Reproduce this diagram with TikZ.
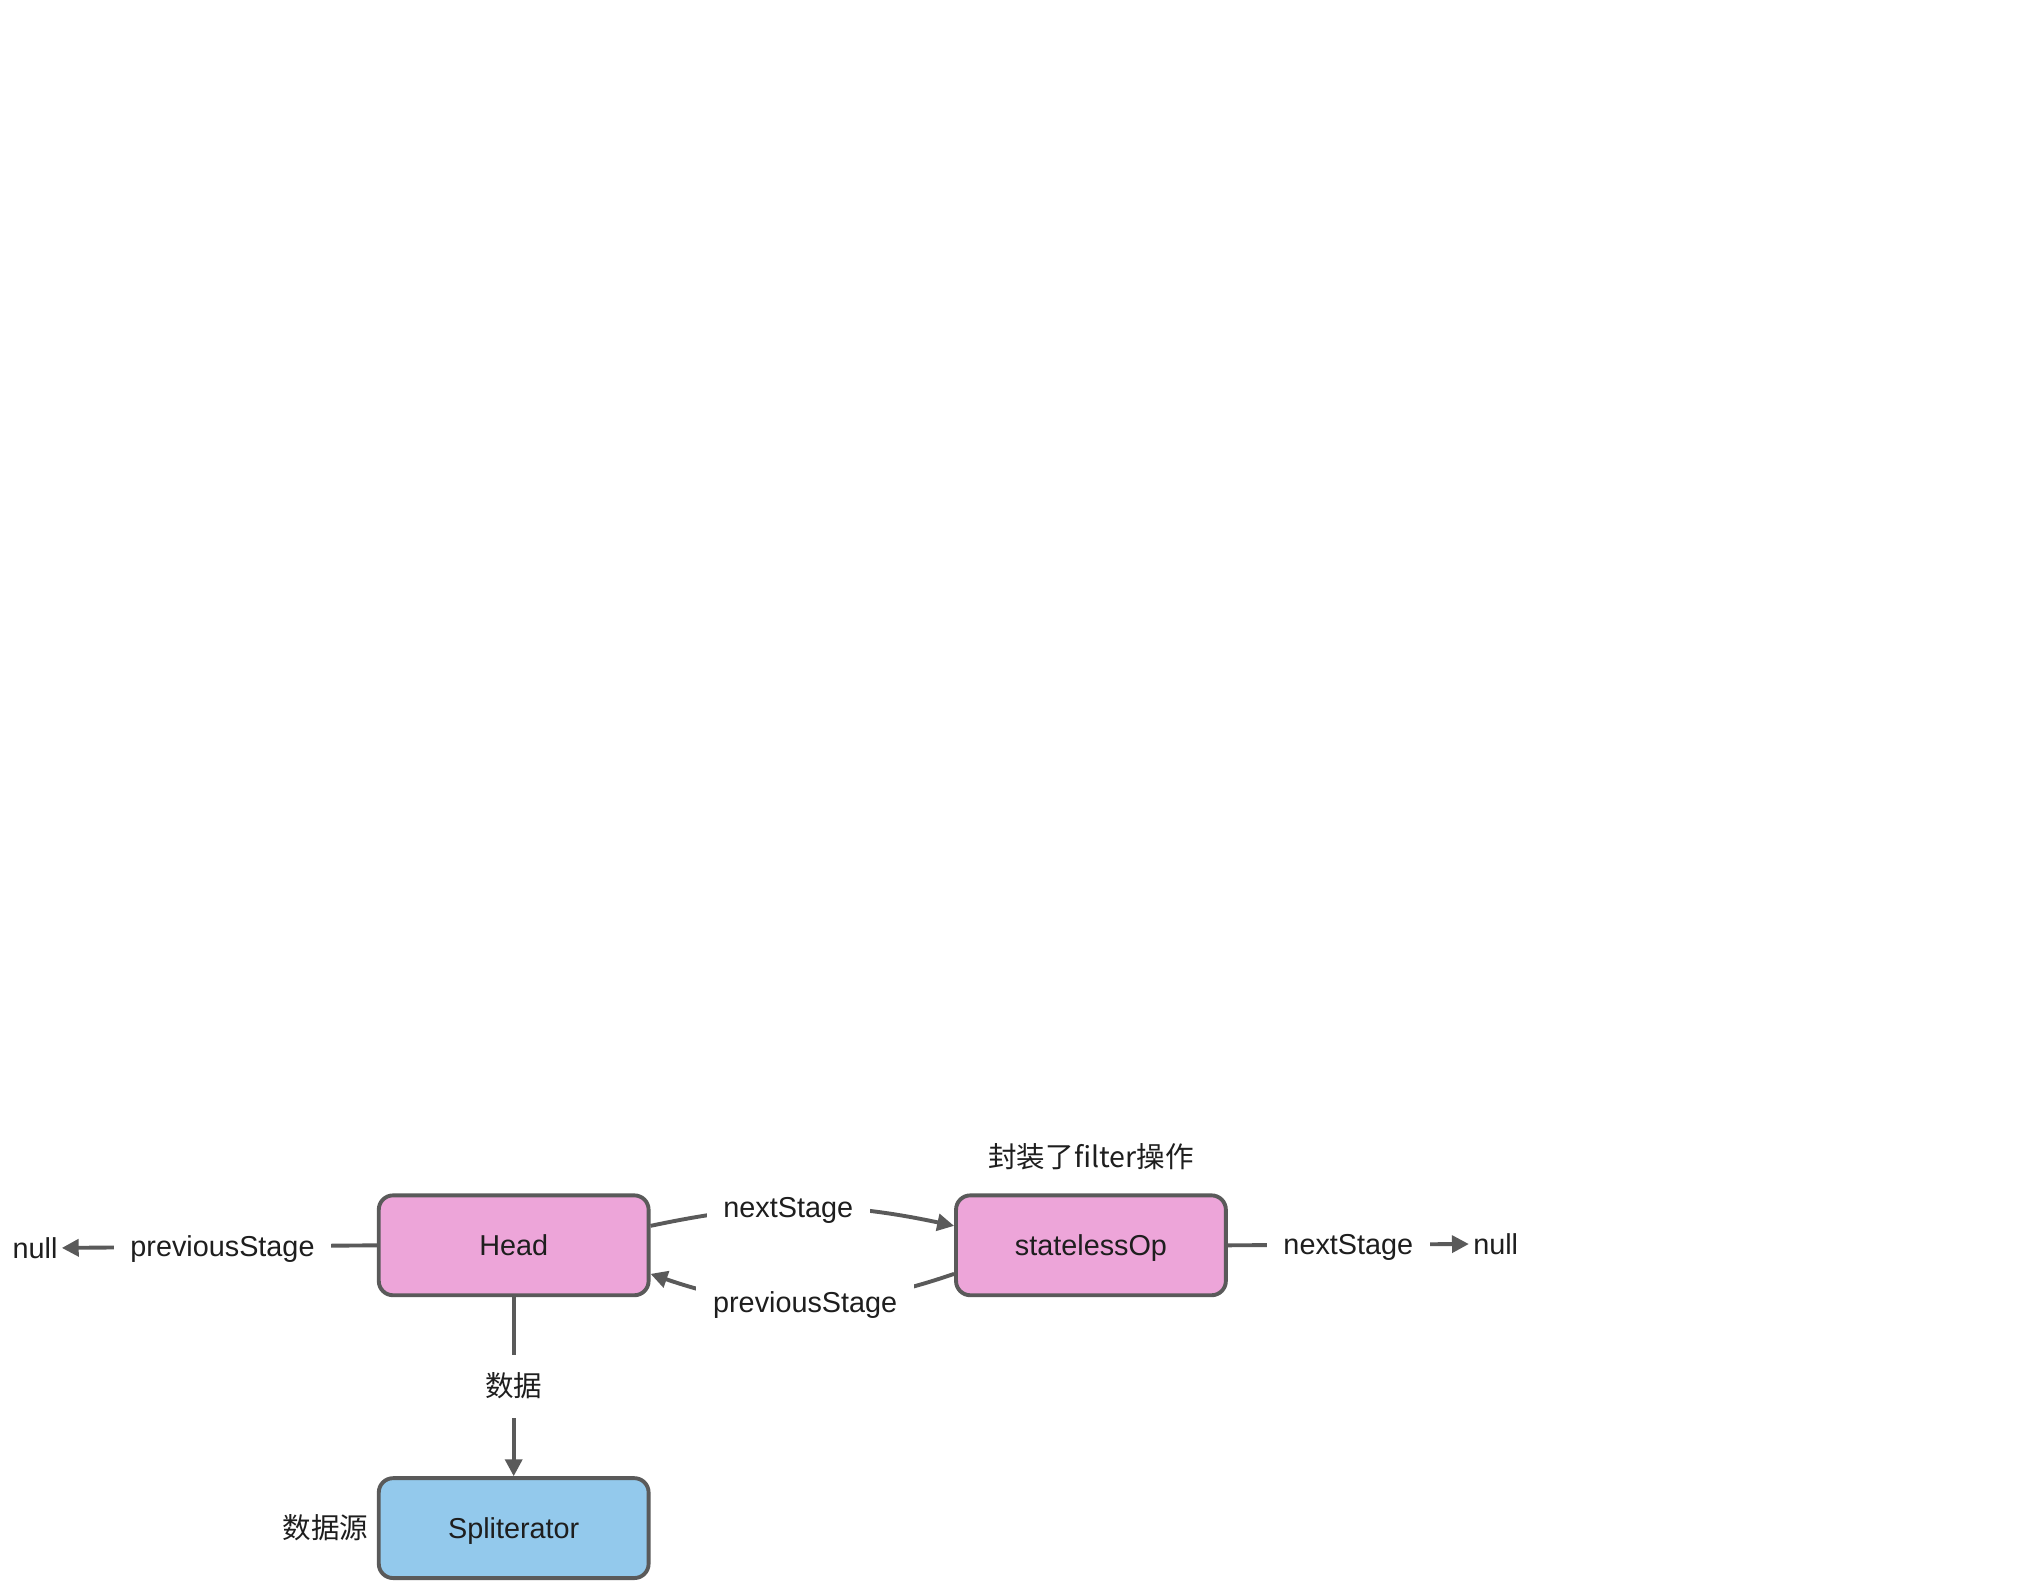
\documentclass[tikz,border=0pt]{standalone}
\usepackage{fontspec}
\setmainfont{Liberation Sans}
\newfontfamily\cjk{Noto Sans CJK SC}
\usetikzlibrary{arrows.meta}
\definecolor{edgec}{HTML}{5A5A5A}
\definecolor{pinkfill}{HTML}{EDA5D9}
\definecolor{bluefill}{HTML}{93C9EC}
\definecolor{txt}{HTML}{1E1E1E}
\begin{document}
\begin{tikzpicture}[x=0.5pt,y=-0.5pt,
  lblfont/.style={font=\fontsize{11.1}{13}\selectfont, text height=9pt, text depth=1.2pt},
  box/.style={draw=edgec, line width=1.5pt, rounded corners=5.5pt,
    minimum width=104pt, minimum height=38.5pt, inner sep=0pt, lblfont, text=txt},
  pinkbox/.style={box, fill=pinkfill},
  bluebox/.style={box, fill=bluefill},
  conn/.style={draw=edgec, line width=1.5pt},
  arr/.style={conn, -{Triangle[length=6.5pt,width=6.5pt]}},
  lbl/.style={fill=white, lblfont, text=txt, inner xsep=6.5pt, inner ysep=2pt},
  plain/.style={lblfont, text=txt, inner sep=1.5pt},
  cjkfont/.style={font=\cjk\fontsize{11}{13}\selectfont}
]
\useasboundingbox[fill=white] (0,0) rectangle (1568,1221);

\node[pinkbox] (head) at (396,960) {Head};
\node[pinkbox] (op) at (841,960) {statelessOp};
\node[bluebox] (spl) at (396,1178) {Spliterator};

\node[plain] (nullL) at (27,962) {null};
\node[plain] (nullR) at (1153,959) {null};
\node[plain, cjkfont] (src) at (251,1178) {数据源};
\node[plain, cjkfont] (note) at (841,892) {封装了filter操作};

% left: Head -> null
\draw[arr] (head.west) -- node[lbl, pos=0.49] {previousStage} (nullL.east);
% right: statelessOp -> null
\draw[arr] (op.east) -- node[lbl] {nextStage} (nullR.west);
% down: Head -> Spliterator
\draw[arr] (head.south) -- node[lbl, cjkfont, inner ysep=7pt] {数据} (spl.north);
% top curve: Head -> statelessOp
\draw[arr] ([yshift=7.5pt]head.east) to[bend left=12]
  node[lbl, pos=0.45] {nextStage} ([yshift=7.5pt]op.west);
% bottom curve: statelessOp -> Head
\draw[arr] ([yshift=-11pt]op.west) to[bend left=19]
  node[lbl, pos=0.49] {previousStage} ([yshift=-11pt]head.east);
\end{tikzpicture}
\end{document}
